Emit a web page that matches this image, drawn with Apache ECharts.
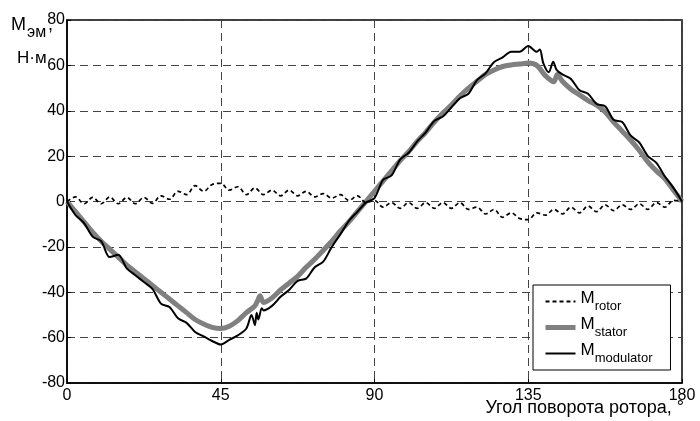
<!DOCTYPE html>
<html>
<head>
<meta charset="utf-8">
<script src="https://cdn.jsdelivr.net/npm/echarts@6/dist/echarts.min.js"></script>
<style>html,body{margin:0;padding:0;background:#fff;}#c{width:700px;height:421px;}</style>
</head>
<body>
<div id="c"></div>
<script>
// ---- data ----
const xTicks = [0, 45, 90, 135, 180];
const yTicks = [-80, -60, -40, -20, 0, 20, 40, 60, 80];
const legendNames = ['rotor', 'stator', 'modulator'];

const anglesRotor = [0,2.5,5,7.5,10,12.5,15,17.5,20,22.5,25,27.5,30,32.5,35,37.5,40,42.5,45,47.5,50,52.5,55,57.5,60,62.5,65,67.5,70,72.5,75,77.5,80,82.5,85,87.5,90,92.5,95,97.5,100,102.5,105,107.5,110,112.5,115,117.5,120,122.5,125,127.5,130,132.5,135,137.5,140,142.5,145,147.5,150,152.5,155,157.5,160,162.5,165,167.5,170,172.5,175,177.5,180];
const rotor = [0,2,-1,1.8,-1,2,-1,1.8,-1,1.8,-0.8,2.5,1,4.5,3,7,4.5,7.5,8,5,6.5,3,6,3,5,2.5,5,2.5,4.5,2,3.5,1.5,3,0.5,2.5,-0.5,0.5,-2.5,-0.5,-3,-0.5,-3,-0.5,-3,-0.5,-3,-0.5,-3.5,-2.5,-5.5,-3.5,-7,-5,-7.5,-8,-5,-6,-3.5,-5.5,-2.5,-5,-2,-4.5,-1.5,-4,-1.5,-3.5,-1,-3.5,-0.5,-2.5,0.5,0];

const anglesStator = [0,2.5,5,7.5,10,12.5,15,17.5,20,22.5,25,27.5,30,32.5,35,37.5,40,42.5,45,47.5,50,52.5,55,56,56.5,57.5,60,62.5,65,67.5,70,72.5,75,77.5,80,82.5,85,87.5,90,92.5,95,97.5,100,102.5,105,107.5,110,112.5,115,117.5,120,122.5,125,127.5,130,132.5,135,137.5,140,142.5,143.5,145,147.5,150,152.5,155,157.5,160,162.5,165,167.5,170,172.5,175,177.5,180];
const stator = [0,-4.5,-9,-13.5,-17.5,-21,-24.5,-28,-31,-34,-37,-40,-43,-46,-49,-52,-54,-55.5,-56,-55,-52.5,-49,-46,-43,-41.5,-44.5,-42.5,-39,-36,-33,-29,-25.5,-21.5,-17.5,-13,-9,-4.5,0,4.5,9,13.5,18,22,26.5,30.5,35,39,42.5,46.5,50,53,56,58,59.5,60.2,60.6,61,60,55.5,52.8,56,53,49.5,47,44.5,42.5,39.5,35,31,27,22.5,17.5,13.5,10,5,0];

const anglesMod = [0,2.5,5,7.5,10,12.5,15,17.5,20,22.5,25,27.5,30,32.5,35,37.5,40,42.5,45,47.5,50,52.5,54,55,55.5,56,57,57.5,60,62.5,65,67.5,70,72.5,75,77.5,80,82.5,85,87.5,90,92.5,95,97.5,100,102.5,105,107.5,110,112.5,115,117.5,120,122.5,125,127.5,130,132.5,135,137.5,138.4,139.4,141,142.3,143.3,145,147.5,150,152.5,155,157.5,160,162.5,165,167.5,170,172.5,175,177.5,180];
const modulator = [0,-6,-9.5,-15.5,-17.5,-24.5,-23.5,-29.5,-32.5,-35.5,-38.5,-45,-46.5,-51.5,-53.5,-57.5,-59.5,-61.5,-63,-61,-59,-56,-50,-54.5,-49,-52,-47,-48,-46,-42,-39,-35,-34,-29,-26.5,-20,-14.5,-8.5,-4.5,-0.5,1.5,9.5,11.5,18.5,21.5,26.5,30.5,35.5,37.5,41.5,45.5,47.5,53.5,56.5,61.5,63.5,66,66,68.5,66,67,61,57,61.6,58,56,54,49,47.5,43,42,36,35,29,26,20,17,11,6,0];

const chart = echarts.init(document.getElementById('c'));
const FONT = 'Liberation Sans, Arial, sans-serif';

chart.setOption({
  animation: false,
  backgroundColor: '#fff',
  grid: { left: 67, right: 18, top: 20, bottom: 38, show: true, borderColor: '#000', borderWidth: 1.5, backgroundColor: 'transparent' },
  xAxis: {
    type: 'value', min: xTicks[0], max: xTicks[xTicks.length-1], interval: 45,
    axisLine: { show: true, onZero: false, lineStyle: { color: '#000', width: 1.5 } },
    axisTick: { show: true, inside: true, length: 4, lineStyle: { color: '#000' } },
    axisLabel: { color: '#000', fontSize: 16, fontFamily: FONT, margin: 5 },
    splitLine: { show: true, lineStyle: { color: '#444', type: [8, 5], width: 1 } }
  },
  yAxis: {
    type: 'value', min: yTicks[0], max: yTicks[yTicks.length-1], interval: 20,
    axisLine: { show: true, onZero: false, lineStyle: { color: '#000', width: 1.5 } },
    axisTick: { show: true, inside: true, length: 4, lineStyle: { color: '#000' } },
    axisLabel: { color: '#000', fontSize: 16, fontFamily: FONT, margin: 2 },
    splitLine: { show: true, lineStyle: { color: '#444', type: [8, 5], width: 1 } }
  },
  legend: {
    orient: 'vertical', left: 533, top: 285,
    backgroundColor: '#fff', borderColor: '#000', borderWidth: 1,
    padding: [5, 18, 5, 10], itemWidth: 30, itemHeight: 14, itemGap: 3,
    itemStyle: { opacity: 0 },
    data: [
      { name: legendNames[0] },
      { name: legendNames[1], lineStyle: { width: 5 } },
      { name: legendNames[2] }
    ],
    formatter: n => '{m|M}{s|' + n + '}',
    textStyle: {
      fontFamily: FONT, color: '#000',
      rich: {
        m: { fontSize: 17, fontFamily: FONT, color: '#000', lineHeight: 23, verticalAlign: 'top', padding: [0,0,6,0] },
        s: { fontSize: 13, fontFamily: FONT, color: '#000', lineHeight: 23, verticalAlign: 'bottom', padding: [9,0,0,0] }
      }
    }
  },
  series: [
    { name: 'rotor', type: 'line', symbol: 'none', smooth: 0.35, z: 3,
      data: anglesRotor.map((a, i) => [a, rotor[i]]),
      lineStyle: { color: '#000', width: 1.7, type: [4, 3] }, itemStyle: { color: '#000' } },
    { name: 'stator', type: 'line', symbol: 'none', smooth: 0.3, z: 2,
      data: anglesStator.map((a, i) => [a, stator[i]]),
      lineStyle: { color: '#808080', width: 5 }, itemStyle: { color: '#808080' } },
    { name: 'modulator', type: 'line', symbol: 'none', smooth: 0.3, z: 4,
      data: anglesMod.map((a, i) => [a, modulator[i]]),
      lineStyle: { color: '#000', width: 2 }, itemStyle: { color: '#000' } }
  ],
  graphic: [
    { type: 'text', style: { x: 11, y: 25.5, verticalAlign: 'middle', text: 'M', fontSize: 18, fontFamily: FONT, fill: '#000' } },
    { type: 'text', style: { x: 27, y: 33, verticalAlign: 'middle', text: 'эм', fontSize: 16, fontFamily: FONT, fill: '#000' } },
    { type: 'text', style: { x: 48, y: 25.5, verticalAlign: 'middle', text: ',', fontSize: 18, fontFamily: FONT, fill: '#000' } },
    { type: 'text', style: { x: 17, y: 58, verticalAlign: 'middle', text: 'Н·м', fontSize: 17, fontFamily: FONT, fill: '#000' } },
    { type: 'text', style: { x: 684, y: 408, align: 'right', verticalAlign: 'middle', text: 'Угол поворота ротора, °', fontSize: 18, fontFamily: FONT, fill: '#000' } }
  ]
});
</script>
</body>
</html>
